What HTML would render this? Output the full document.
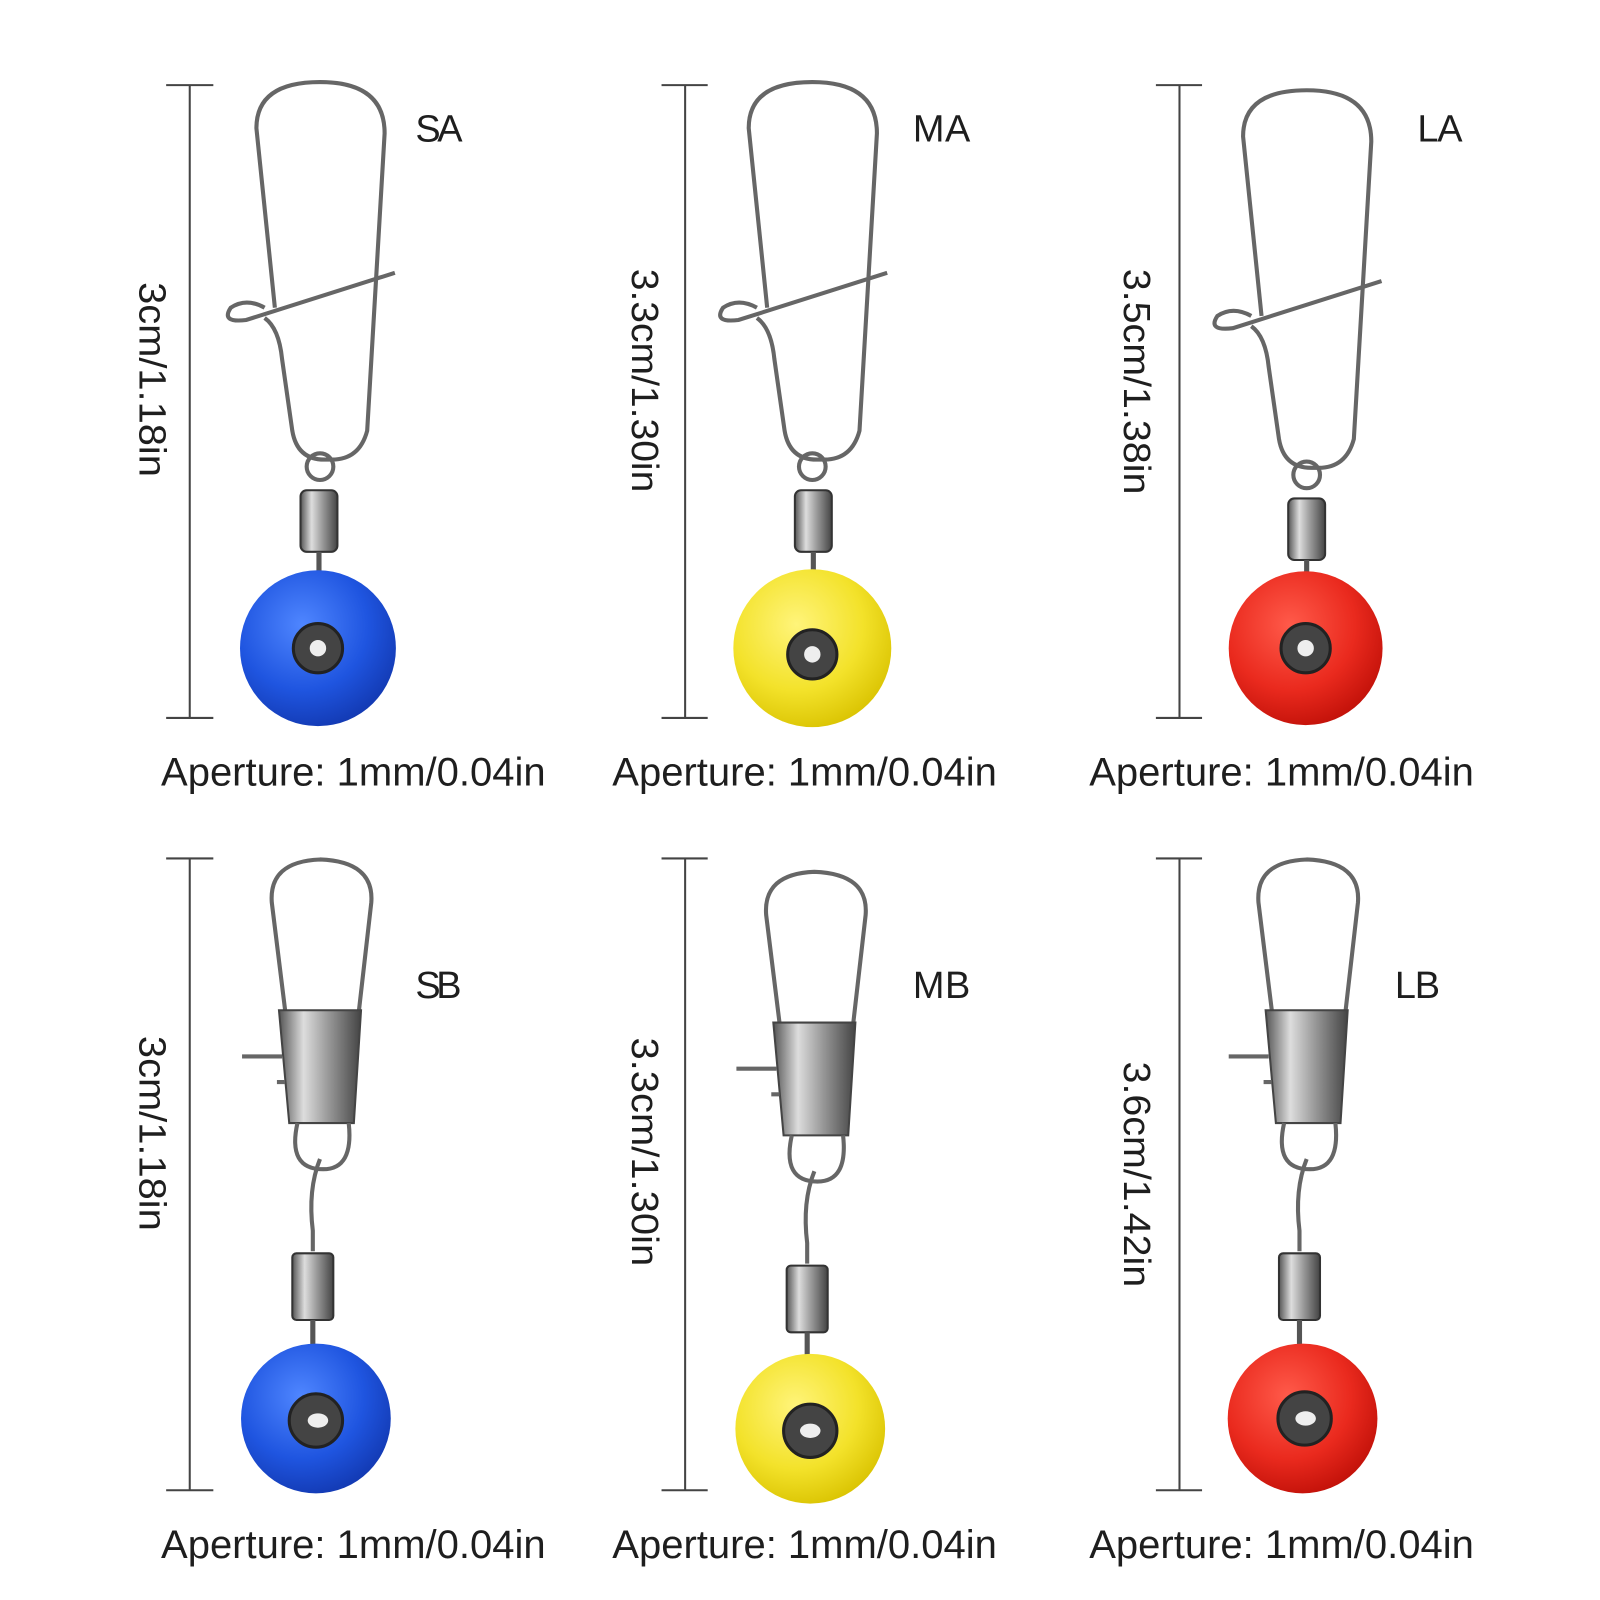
<!DOCTYPE html>
<html><head><meta charset="utf-8"><style>
html,body{margin:0;padding:0;background:#fff;width:1600px;height:1600px;overflow:hidden}
svg{display:block}
text{font-family:"Liberation Sans",sans-serif;fill:#1e1e1e}
</style></head><body>
<svg width="1600" height="1600" viewBox="0 0 1560 1560" xmlns="http://www.w3.org/2000/svg">
<defs>
<radialGradient id="blue" cx="40%" cy="35%" r="70%"><stop offset="0" stop-color="#4f86ff"/><stop offset="0.6" stop-color="#1f55e0"/><stop offset="1" stop-color="#1238b0"/></radialGradient>
<radialGradient id="yellow" cx="40%" cy="35%" r="70%"><stop offset="0" stop-color="#fff47a"/><stop offset="0.6" stop-color="#f3e22a"/><stop offset="1" stop-color="#d9c200"/></radialGradient>
<radialGradient id="red" cx="40%" cy="35%" r="70%"><stop offset="0" stop-color="#ff5a4a"/><stop offset="0.6" stop-color="#ea2a1e"/><stop offset="1" stop-color="#c01008"/></radialGradient>
<linearGradient id="metal" x1="0" x2="1"><stop offset="0" stop-color="#555"/><stop offset="0.3" stop-color="#ddd"/><stop offset="0.6" stop-color="#999"/><stop offset="1" stop-color="#444"/></linearGradient>
<g id="snapA" fill="none" stroke="#666" stroke-width="4">
<path d="M268 300 L250 125 Q250 80 312 80 Q375 80 375 130 L358 420 Q350 450 320 448 Q290 450 285 420 L275 350 Q272 320 258 310"/>
<path d="M258 300 Q240 290 225 300 Q215 315 240 312 L385 266"/>
<circle cx="312" cy="455" r="13"/>
</g>
<g id="swivel">
<rect x="293" y="478" width="36" height="60" rx="6" fill="url(#metal)" stroke="#333" stroke-width="2"/>
<line x1="311" y1="538" x2="311" y2="565" stroke="#555" stroke-width="5"/>
</g>
<g id="snapB" fill="none" stroke="#666" stroke-width="4">
<path d="M278 985 L265 880 Q262 840 312 838 Q365 840 362 880 L350 985"/>
<path d="M272 985 L352 985 L345 1095 L282 1095 Z" fill="url(#metal)" stroke="#444" stroke-width="2"/>
<path d="M236 1030 L275 1030 M270 1055 L278 1055"/>
<path d="M290 1095 Q280 1140 315 1140 Q345 1140 340 1095"/>
<path d="M312 1130 Q300 1160 305 1200 L305 1220"/>
<rect x="285" y="1222" width="40" height="65" rx="4" fill="url(#metal)" stroke="#333" stroke-width="2"/>
<line x1="305" y1="1287" x2="305" y2="1315" stroke="#555" stroke-width="5"/>
</g>
</defs>

<g stroke="#444" stroke-width="2">
<line x1="185" y1="83" x2="185" y2="700"/><line x1="162" y1="83" x2="208" y2="83"/><line x1="162" y1="700" x2="208" y2="700"/>
<line x1="668" y1="83" x2="668" y2="700"/><line x1="645" y1="83" x2="690" y2="83"/><line x1="645" y1="700" x2="690" y2="700"/>
<line x1="1150" y1="83" x2="1150" y2="700"/><line x1="1127" y1="83" x2="1172" y2="83"/><line x1="1127" y1="700" x2="1172" y2="700"/>
<line x1="185" y1="837" x2="185" y2="1453"/><line x1="162" y1="837" x2="208" y2="837"/><line x1="162" y1="1453" x2="208" y2="1453"/>
<line x1="668" y1="837" x2="668" y2="1453"/><line x1="645" y1="837" x2="690" y2="837"/><line x1="645" y1="1453" x2="690" y2="1453"/>
<line x1="1150" y1="837" x2="1150" y2="1453"/><line x1="1127" y1="837" x2="1172" y2="837"/><line x1="1127" y1="1453" x2="1172" y2="1453"/>
</g>

<use href="#snapA"/><use href="#swivel"/>
<use href="#snapA" transform="translate(480,0)"/><use href="#swivel" transform="translate(482,0)"/>
<use href="#snapA" transform="translate(962,8)"/><use href="#swivel" transform="translate(963,8)"/>
<circle cx="310" cy="632" r="76" fill="url(#blue)"/>
<circle cx="792" cy="632" r="77" fill="url(#yellow)"/>
<circle cx="1273" cy="632" r="75" fill="url(#red)"/>
<g stroke="#222" stroke-width="3" fill="#444">
<circle cx="310" cy="632" r="24"/><circle cx="792" cy="638" r="24"/><circle cx="1273" cy="632" r="24"/>
</g>
<g fill="#eee"><circle cx="310" cy="632" r="8"/><circle cx="792" cy="638" r="8"/><circle cx="1273" cy="632" r="8"/></g>

<use href="#snapB"/>
<use href="#snapB" transform="translate(482,12)"/>
<use href="#snapB" transform="translate(962,0)"/>
<circle cx="308" cy="1383" r="73" fill="url(#blue)"/>
<circle cx="790" cy="1393" r="73" fill="url(#yellow)"/>
<circle cx="1270" cy="1383" r="73" fill="url(#red)"/>
<g fill="#444" stroke="#222" stroke-width="3">
<circle cx="308" cy="1385" r="26"/><circle cx="790" cy="1395" r="26"/><circle cx="1272" cy="1383" r="26"/>
</g>
<g fill="#eee"><ellipse cx="310" cy="1385" rx="10" ry="7"/><ellipse cx="790" cy="1395" rx="10" ry="7"/><ellipse cx="1273" cy="1383" rx="10" ry="7"/></g>

<g font-size="37">
<text x="405" y="138" textLength="46">SA</text><text x="890" y="138" textLength="56">MA</text><text x="1382" y="138" textLength="44">LA</text>
<text x="405" y="973" textLength="45">SB</text><text x="890" y="973" textLength="56">MB</text><text x="1360" y="973" textLength="44">LB</text>
</g>
<g font-size="39">
<text x="157" y="766" textLength="375" lengthAdjust="spacingAndGlyphs">Aperture: 1mm/0.04in</text>
<text x="597" y="766" textLength="375" lengthAdjust="spacingAndGlyphs">Aperture: 1mm/0.04in</text>
<text x="1062" y="766" textLength="375" lengthAdjust="spacingAndGlyphs">Aperture: 1mm/0.04in</text>
<text x="157" y="1519" textLength="375" lengthAdjust="spacingAndGlyphs">Aperture: 1mm/0.04in</text>
<text x="597" y="1519" textLength="375" lengthAdjust="spacingAndGlyphs">Aperture: 1mm/0.04in</text>
<text x="1062" y="1519" textLength="375" lengthAdjust="spacingAndGlyphs">Aperture: 1mm/0.04in</text>
</g>
<g font-size="37" text-anchor="middle">
<text transform="translate(136,370) rotate(90)" textLength="190" lengthAdjust="spacingAndGlyphs">3cm/1.18in</text>
<text transform="translate(616,371) rotate(90)" textLength="218" lengthAdjust="spacingAndGlyphs">3.3cm/1.30in</text>
<text transform="translate(1096,372) rotate(90)" textLength="220" lengthAdjust="spacingAndGlyphs">3.5cm/1.38in</text>
<text transform="translate(136,1105) rotate(90)" textLength="190" lengthAdjust="spacingAndGlyphs">3cm/1.18in</text>
<text transform="translate(616,1123) rotate(90)" textLength="223" lengthAdjust="spacingAndGlyphs">3.3cm/1.30in</text>
<text transform="translate(1096,1145) rotate(90)" textLength="220" lengthAdjust="spacingAndGlyphs">3.6cm/1.42in</text>
</g>
</svg>
</body></html>
